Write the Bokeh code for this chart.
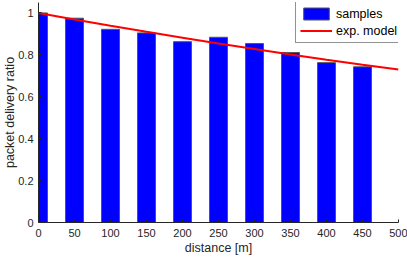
from bokeh.plotting import figure
from bokeh.models import Range1d, FixedTicker, Legend, LegendItem
from bokeh.embed import file_html
from bokeh.resources import INLINE

# data
distance = [0, 50, 100, 150, 200, 250, 300, 350, 400, 450]
pdr_samples = [1.0, 0.975, 0.922, 0.905, 0.863, 0.884, 0.854, 0.811, 0.763, 0.743]
model_distance = [0, 50, 100, 150, 200, 250, 300, 350, 400, 450, 500]
pdr_model = [1.0, 0.969, 0.939, 0.910, 0.882, 0.854, 0.828, 0.802, 0.777, 0.753, 0.730]
x_ticks = [0, 50, 100, 150, 200, 250, 300, 350, 400, 450, 500]
y_ticks = [0, 0.2, 0.4, 0.6, 0.8, 1]
y_tick_labels = ["0", "0.2", "0.4", "0.6", "0.8", "1"]

FONT = "Liberation Sans"
AX = "#262626"

p = figure(width=407, height=257, output_backend="svg", toolbar_location=None,
           x_range=Range1d(0, 500), y_range=Range1d(0, 1.05),
           min_border_left=38, min_border_right=9, min_border_top=2, min_border_bottom=35)
p.outline_line_color = None
p.xgrid.visible = False
p.ygrid.visible = False

bars = p.vbar(x=distance, top=pdr_samples, width=25, bottom=0,
              fill_color="#0000ff", line_color="#555555", line_width=1)
line = p.line(model_distance, pdr_model, line_color="#ff0000", line_width=2)

for ax in (p.xaxis[0], p.yaxis[0]):
    ax.axis_line_color = AX
    ax.major_tick_line_color = AX
    ax.major_tick_in = 3
    ax.major_tick_out = 0
    ax.minor_tick_line_color = None
    ax.major_label_text_font = FONT
    ax.major_label_text_font_size = "11px"
    ax.major_label_text_color = AX
    ax.axis_label_text_font = FONT
    ax.axis_label_text_font_size = "12.5px"
    ax.axis_label_text_font_style = "normal"
    ax.axis_label_text_color = AX

p.xaxis.ticker = FixedTicker(ticks=x_ticks)
p.xaxis.axis_label = "distance [m]"
p.xaxis.major_label_standoff = 6
p.xaxis.axis_label_standoff = 1

p.yaxis.ticker = FixedTicker(ticks=y_ticks)
p.yaxis.major_label_overrides = dict(zip(y_ticks, y_tick_labels))
p.yaxis.axis_label = "packet delivery ratio"
p.yaxis.major_label_standoff = 5
p.yaxis.axis_label_standoff = -2

legend = Legend(items=[LegendItem(label="samples", renderers=[bars]),
                       LegendItem(label="exp. model", renderers=[line])],
                location=(257, 179))
legend.glyph_width = 32
legend.glyph_height = 15
legend.label_height = 15
legend.label_standoff = 4
legend.spacing = 2
legend.padding = 4
legend.margin = 0
legend.label_text_font = FONT
legend.label_text_font_size = "12.5px"
legend.label_text_color = "black"
legend.border_line_color = AX
legend.border_line_width = 1
legend.background_fill_alpha = 1
p.add_layout(legend, "center")

open("out.html", "w").write(file_html(p, INLINE))
